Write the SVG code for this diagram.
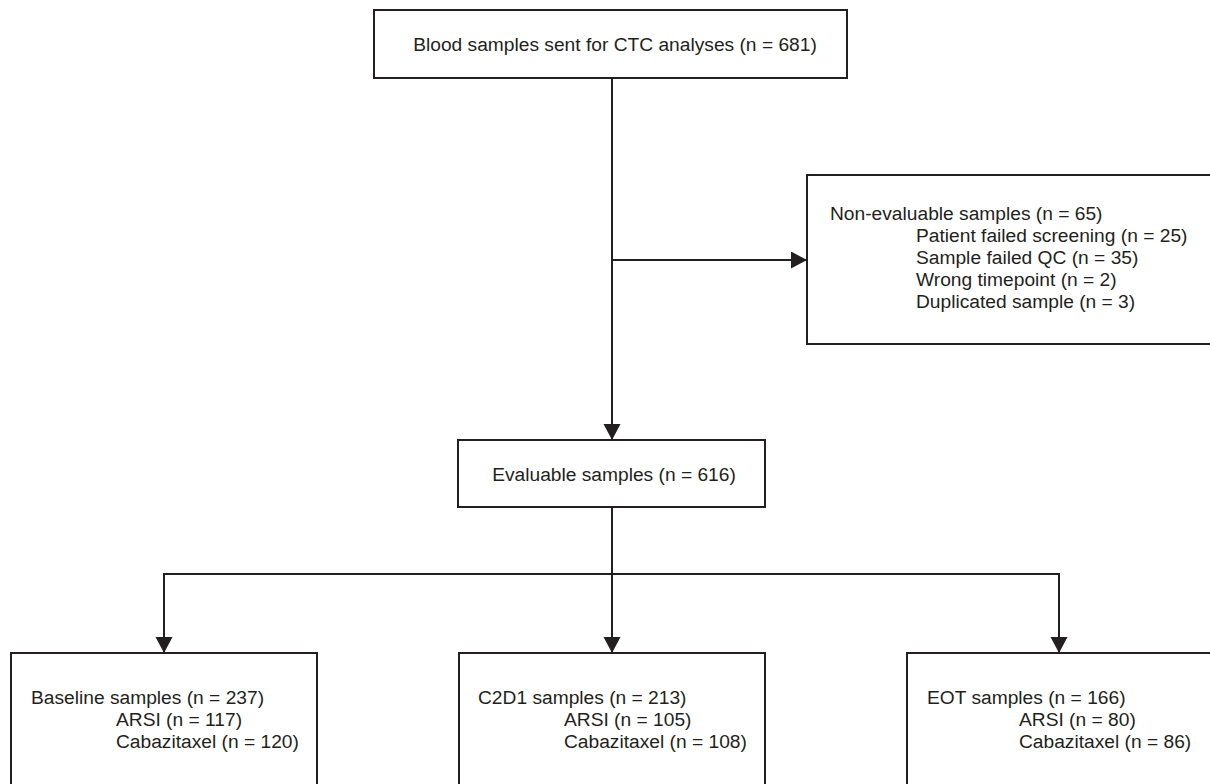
<svg xmlns="http://www.w3.org/2000/svg" width="1210" height="784" viewBox="0 0 1210 784">
<style>
.box{fill:#fff;stroke:#231f20;stroke-width:2}
.t{font-family:"Liberation Sans",Arial,sans-serif;font-size:19.2px;fill:#231f20}
.c{text-anchor:middle}
.ln{fill:none;stroke:#231f20;stroke-width:2}
</style>
<defs>
<marker id="ah" markerUnits="userSpaceOnUse" markerWidth="17" markerHeight="18" refX="16" refY="8.5" orient="auto">
<path d="M0,0 L16,8.5 L0,17 z" fill="#231f20"/>
</marker>
</defs>
<rect width="1210" height="784" fill="#fff"/>
<g id="connectors">
<line class="ln" x1="612" y1="78" x2="612" y2="440" marker-end="url(#ah)"/>
<line class="ln" x1="612" y1="260" x2="807" y2="260" marker-end="url(#ah)"/>
<line class="ln" x1="612" y1="507" x2="612" y2="574"/>
<line class="ln" x1="163" y1="574" x2="1060" y2="574"/>
<line class="ln" x1="164" y1="573" x2="164" y2="653" marker-end="url(#ah)"/>
<line class="ln" x1="612" y1="574" x2="612" y2="653" marker-end="url(#ah)"/>
<line class="ln" x1="1059" y1="573" x2="1059" y2="653" marker-end="url(#ah)"/>
</g>
<g id="blood">
<rect class="box" x="374" y="10" width="473" height="68"/>
<text class="t c" x="615" y="51">Blood samples sent for CTC analyses (n = 681)</text>
</g>
<g id="nonevaluable">
<rect class="box" x="807" y="175" width="420" height="169"/>
<text class="t" x="830" y="220">Non-evaluable samples (n = 65)</text>
<text class="t" x="916" y="242">Patient failed screening (n = 25)</text>
<text class="t" x="916" y="264">Sample failed QC (n = 35)</text>
<text class="t" x="916" y="286">Wrong timepoint (n = 2)</text>
<text class="t" x="916" y="308">Duplicated sample (n = 3)</text>
</g>
<g id="evaluable">
<rect class="box" x="458" y="440" width="307" height="67"/>
<text class="t c" x="614" y="481">Evaluable samples (n = 616)</text>
</g>
<g id="baseline">
<rect class="box" x="11" y="653" width="306" height="150"/>
<text class="t" x="31" y="704">Baseline samples (n = 237)</text>
<text class="t" x="116" y="726">ARSI (n = 117)</text>
<text class="t" x="116" y="748">Cabazitaxel (n = 120)</text>
</g>
<g id="c2d1">
<rect class="box" x="459" y="653" width="306" height="150"/>
<text class="t" x="478" y="704">C2D1 samples (n = 213)</text>
<text class="t" x="564" y="726">ARSI (n = 105)</text>
<text class="t" x="564" y="748">Cabazitaxel (n = 108)</text>
</g>
<g id="eot">
<rect class="box" x="907" y="653" width="320" height="150"/>
<text class="t" x="927" y="704">EOT samples (n = 166)</text>
<text class="t" x="1019" y="726">ARSI (n = 80)</text>
<text class="t" x="1019" y="748">Cabazitaxel (n = 86)</text>
</g>
</svg>
